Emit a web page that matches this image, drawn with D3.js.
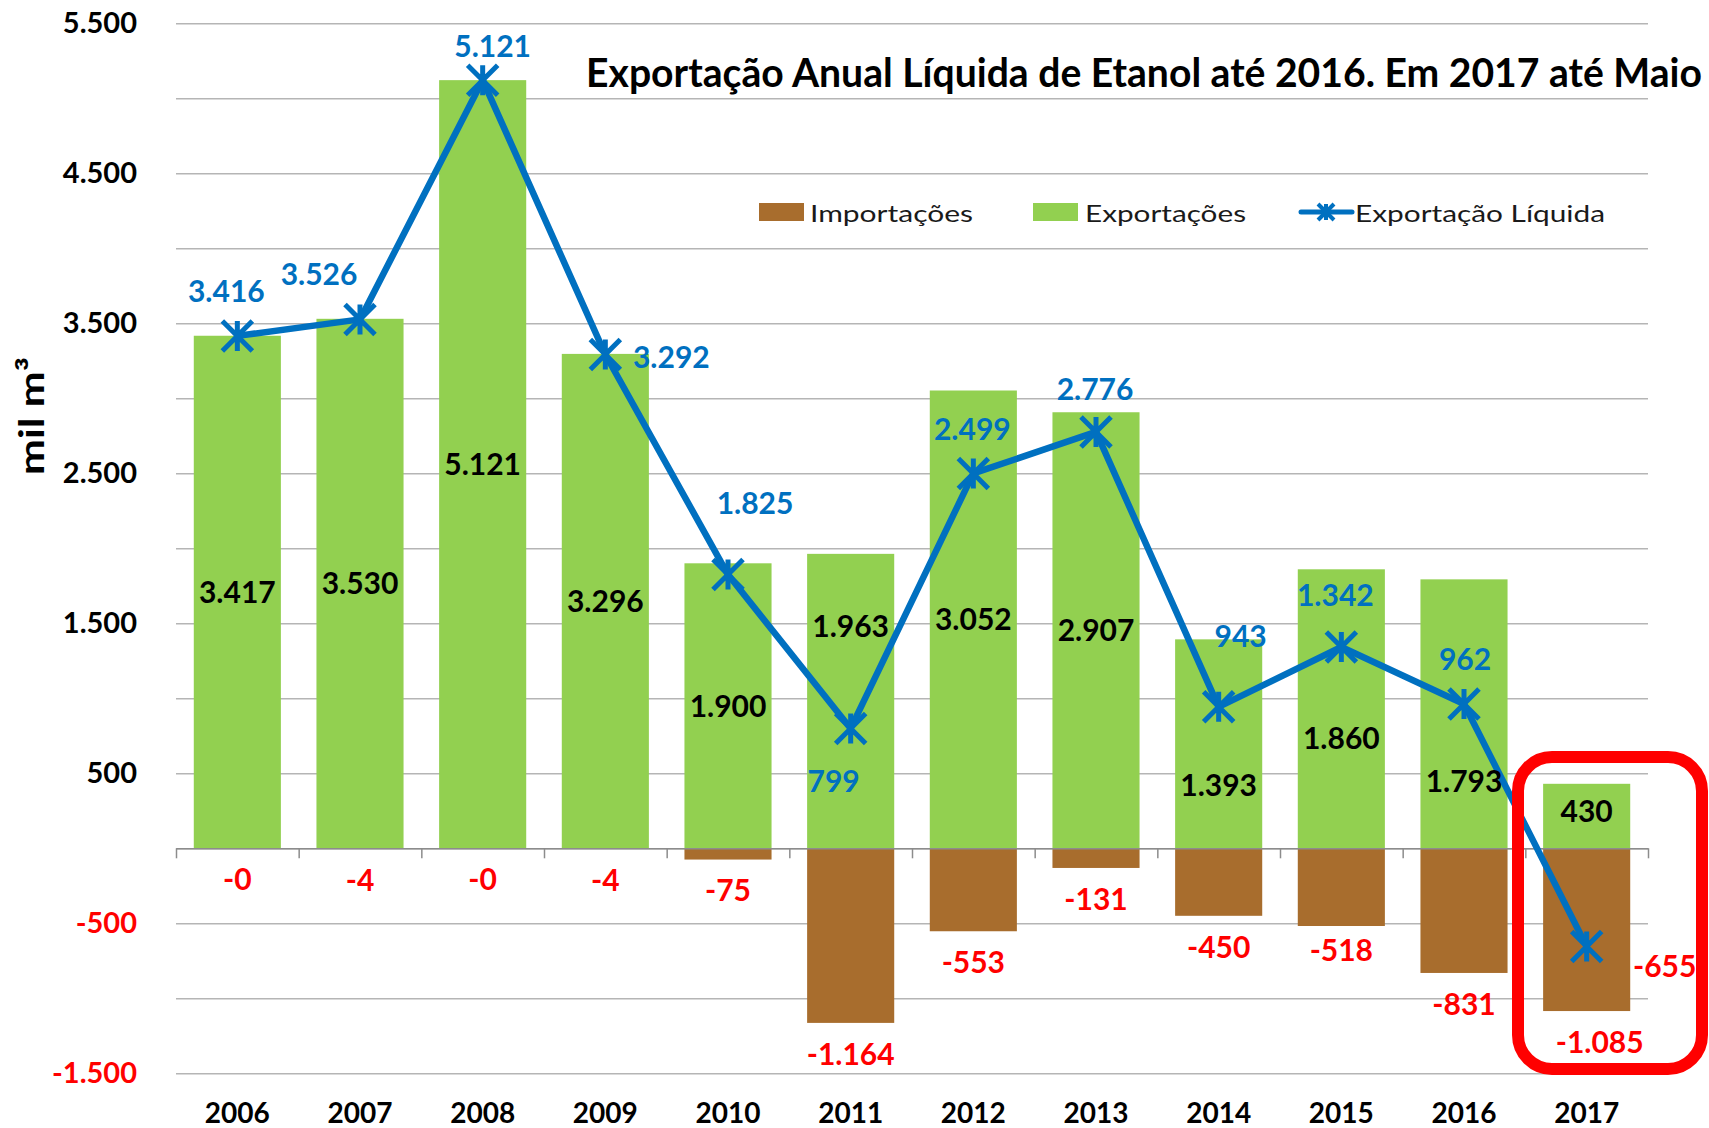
<!DOCTYPE html>
<html>
<head>
<meta charset="utf-8">
<script src="https://cdn.jsdelivr.net/npm/d3@7"></script>
<style>
    html, body { margin: 0; padding: 0; background: #fff; }
    svg { display: block; font-family: Lato, "Liberation Sans", sans-serif; }
</style>
</head>
<body>
<script>
(function () {
    'use strict';

    var anos = ['2006', '2007', '2008', '2009', '2010', '2011', '2012', '2013', '2014', '2015', '2016', '2017'];
    var exportacoes = [3417, 3530, 5121, 3296, 1900, 1963, 3052, 2907, 1393, 1860, 1793, 430];
    var importacoes = [-0.2, -4, -0.2, -4, -75, -1164, -553, -131, -450, -518, -831, -1085];
    var liquida = [3416, 3526, 5121, 3292, 1825, 799, 2499, 2776, 943, 1342, 962, -655];
    var yTickValues = [5500, 4500, 3500, 2500, 1500, 500, -500, -1500];

    // the labels in the original were dragged around by hand
    var liquidaLabelShift = [[-11, -45], [-41, -45], [10, -34], [66, 3], [27, -71], [-17, 53],
                             [-1, -44], [-1, -43], [22, -71], [-6, -52], [1, -45], [78, 20]];
    var exportLabelShift = [0, 0, 0, 0, 0, -75, 0, 0, 41, 29, 67, -5];
    var importLabelShift = [[0, 0], [0, 0], [0, 0], [0, 0], [0, 0], [0, 0],
                            [0, 0], [0, 0], [0, 0], [0, -7], [0, 0], [13, 0]];

    var width = 1709, height = 1128;
    var left = 176, right = 1648, top = 23.3, bottom = 1073.3;
    var blue = '#0070C0', red = '#FF0000', green = '#92D050', brown = '#A86D2D';

    var ptBR = d3.formatLocale({ decimal: ',', thousands: '.', grouping: [3], currency: ['R$', ''], minus: '-' });
    var fmtAbs = ptBR.format(',.0f');
    // keep the "-0" that excel prints for tiny imports
    var fmt = function (d) { return (d < 0 ? '-' : '') + fmtAbs(Math.abs(d)); };

    var svg = d3.select('body').append('svg')
        .attr('width', width)
        .attr('height', height);

    var x = d3.scaleBand().domain(anos).range([left, right]).paddingInner(0.29).paddingOuter(0.145);
    var y = d3.scaleLinear().domain([-1500, 5500]).range([bottom, top]);
    var cx = function (d, i) { return x(anos[i]) + x.bandwidth() / 2; };

    // gridlines
    svg.append('g')
        .attr('transform', 'translate(' + left + ',0)')
        .call(d3.axisLeft(y).tickValues(d3.range(-1500, 5501, 500)).tickSize(-(right - left)).tickFormat(''))
        .call(function (g) {
            g.select('.domain').remove();
            g.selectAll('line').attr('stroke', '#B5B5B5').attr('stroke-width', 1.5);
        });

    // y labels
    svg.append('g')
        .attr('transform', 'translate(' + left + ',0)')
        .call(d3.axisLeft(y).tickValues(yTickValues).tickSize(0).tickPadding(39).tickFormat(fmt))
        .call(function (g) {
            g.select('.domain').remove();
            g.selectAll('text')
                .attr('font-family', 'Lato')
                .attr('font-size', 29)
                .attr('font-weight', 'bold')
                .attr('fill', function (d) { return d < 0 ? red : '#000'; });
        });

    svg.append('text')
        .attr('transform', 'translate(44,416) rotate(-90)')
        .attr('text-anchor', 'middle')
        .attr('font-size', 34)
        .attr('font-weight', 'bold')
        .attr('textLength', 118)
        .attr('lengthAdjust', 'spacingAndGlyphs')
        .text('mil  m³');

    // bars
    svg.append('g').selectAll('rect')
        .data(exportacoes)
        .join('rect')
        .attr('x', function (d, i) { return x(anos[i]); })
        .attr('y', function (d) { return y(d); })
        .attr('width', x.bandwidth())
        .attr('height', function (d) { return y(0) - y(d); })
        .attr('fill', green);

    svg.append('g').selectAll('rect')
        .data(importacoes)
        .join('rect')
        .attr('x', function (d, i) { return x(anos[i]); })
        .attr('y', y(0))
        .attr('width', x.bandwidth())
        .attr('height', function (d) { return y(d) - y(0); })
        .attr('fill', brown);

    // zero line with ticks between the categories
    var slots = d3.scaleLinear().domain([0, anos.length]).range([left, right]);
    svg.append('g')
        .attr('transform', 'translate(0,' + y(0) + ')')
        .call(d3.axisBottom(slots).tickValues(d3.range(anos.length + 1)).tickSize(10).tickSizeOuter(0).tickFormat(''))
        .call(function (g) {
            g.selectAll('line, path').attr('stroke', '#8C8C8C').attr('stroke-width', 1.5);
        });

    // year labels
    svg.append('g')
        .attr('transform', 'translate(0,1098)')
        .call(d3.axisBottom(x).tickSize(0).tickPadding(5))
        .call(function (g) {
            g.select('.domain').remove();
            g.selectAll('text')
                .attr('font-family', 'Lato')
                .attr('font-size', 28)
                .attr('font-weight', 'bold')
                .attr('fill', '#000');
        });

    // net export line
    var line = d3.line()
        .x(function (d, i) { return cx(d, i); })
        .y(function (d) { return y(d); });

    svg.append('path')
        .datum(liquida)
        .attr('d', line)
        .attr('fill', 'none')
        .attr('stroke', blue)
        .attr('stroke-width', 6.5)
        .attr('stroke-linejoin', 'round');

    function star(r) {
        return 'M' + (-r) + ',' + (-r) + 'L' + r + ',' + r +
               'M' + (-r) + ',' + r + 'L' + r + ',' + (-r) +
               'M0,' + (-r) + 'L0,' + r;
    }

    svg.append('g').selectAll('path')
        .data(liquida)
        .join('path')
        .attr('transform', function (d, i) { return 'translate(' + cx(d, i) + ',' + y(d) + ')'; })
        .attr('d', star(15))
        .attr('fill', 'none')
        .attr('stroke', blue)
        .attr('stroke-width', 5);

    // labels
    var labels = svg.append('g')
        .attr('font-size', 30)
        .attr('font-weight', 'bold')
        .attr('text-anchor', 'middle');

    labels.selectAll('text.exp')
        .data(exportacoes)
        .join('text')
        .attr('class', 'exp')
        .attr('x', cx)
        .attr('y', function (d, i) { return (y(d) + y(0)) / 2 + exportLabelShift[i]; })
        .attr('dy', '0.36em')
        .attr('fill', '#000')
        .text(fmt);

    labels.selectAll('text.imp')
        .data(importacoes)
        .join('text')
        .attr('class', 'imp')
        .attr('x', function (d, i) { return cx(d, i) + importLabelShift[i][0]; })
        .attr('y', function (d, i) { return y(d) + 31 + importLabelShift[i][1]; })
        .attr('dy', '0.36em')
        .attr('fill', red)
        .text(fmt);

    labels.selectAll('text.liq')
        .data(liquida)
        .join('text')
        .attr('class', 'liq')
        .attr('x', function (d, i) { return cx(d, i) + liquidaLabelShift[i][0]; })
        .attr('y', function (d, i) { return y(d) + liquidaLabelShift[i][1]; })
        .attr('dy', '0.36em')
        .attr('fill', function (d) { return d < 0 ? red : blue; })
        .text(fmt);

    // legend
    var legend = svg.append('g')
        .attr('font-size', 24)
        .attr('fill', '#1A1A1A');

    legend.append('rect').attr('x', 759).attr('y', 203).attr('width', 45).attr('height', 18).attr('fill', brown);
    legend.append('text').attr('x', 810).attr('y', 222)
        .attr('textLength', 163).attr('lengthAdjust', 'spacingAndGlyphs')
        .text('Importações');

    legend.append('rect').attr('x', 1033).attr('y', 203).attr('width', 45).attr('height', 18).attr('fill', green);
    legend.append('text').attr('x', 1085).attr('y', 222)
        .attr('textLength', 161).attr('lengthAdjust', 'spacingAndGlyphs')
        .text('Exportações');

    legend.append('line').attr('x1', 1301).attr('x2', 1352).attr('y1', 212).attr('y2', 212)
        .attr('stroke', blue).attr('stroke-width', 5).attr('stroke-linecap', 'round');
    legend.append('path').attr('transform', 'translate(1326,212)').attr('d', star(8))
        .attr('stroke', blue).attr('stroke-width', 4).attr('fill', 'none');
    legend.append('text').attr('x', 1355).attr('y', 222)
        .attr('textLength', 250).attr('lengthAdjust', 'spacingAndGlyphs')
        .text('Exportação Líquida');

    // title, sized to the width it has in the original
    var title = svg.append('text')
        .attr('x', 586)
        .attr('y', 87)
        .attr('font-size', 34)
        .attr('font-weight', 'bold')
        .attr('fill', '#000')
        .text('Exportação Anual Líquida de Etanol até 2016. Em 2017 até Maio');
    var tw = title.node().getComputedTextLength();
    title.attr('textLength', 1116).attr('lengthAdjust', 'spacingAndGlyphs');
    if (tw > 0) { title.attr('font-size', Math.min(40, Math.max(30, 34 * 1116 / tw))); }

    // highlight around 2017
    svg.append('rect')
        .attr('x', 1518)
        .attr('y', 757)
        .attr('width', 184)
        .attr('height', 312)
        .attr('rx', 34)
        .attr('fill', 'none')
        .attr('stroke', red)
        .attr('stroke-width', 12);
})();
</script>
</body>
</html>
